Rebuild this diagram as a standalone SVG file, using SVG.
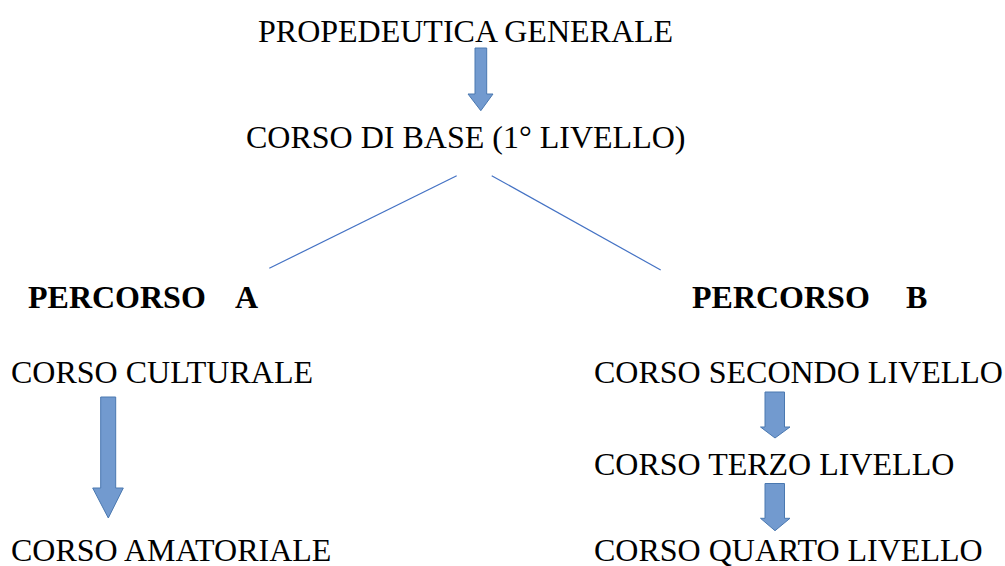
<svg xmlns="http://www.w3.org/2000/svg" width="1005" height="566" viewBox="0 0 1005 566">
<style>
.t{font-family:"Liberation Serif","Times New Roman",serif;font-size:32px;fill:#000}
.b{font-weight:bold}
.arr{fill:#729acf;stroke:#4a78b0;stroke-width:1}
.ln{stroke:#4472c4;stroke-width:1.2;fill:none}
</style>
<rect width="1005" height="566" fill="#fff"/>
<g id="connectors">
<line class="ln" x1="269.3" y1="268.3" x2="456.7" y2="175.7"/>
<line class="ln" x1="491.7" y1="175.7" x2="660.7" y2="270"/>
<path class="arr" d="M475,48 H486.7 V94 H493 L480.8,110.7 L468,94 H475 Z"/>
<path class="arr" d="M100.7,397 H115.7 V488 H123.3 L108.3,518 L92.7,488 H100.7 Z"/>
<path class="arr" d="M765,392 H784.5 V427 H790 L775,438 L760.5,427 H765 Z"/>
<path class="arr" d="M765,483.5 H784.5 V518.3 H790 L775,530.7 L760.5,518.3 H765 Z"/>
</g>
<g id="n-propedeutica"><text class="t" x="258" y="41.5">PROPEDEUTICA GENERALE</text></g>
<g id="n-base"><text class="t" x="246" y="148.3">CORSO DI BASE (1° LIVELLO)</text></g>
<g id="n-percorso-a"><text class="t b" x="28" y="308.3">PERCORSO<tspan x="235">A</tspan></text></g>
<g id="n-percorso-b"><text class="t b" x="692" y="308.3">PERCORSO<tspan x="906">B</tspan></text></g>
<g id="n-culturale"><text class="t" x="11" y="383.3">CORSO CULTURALE</text></g>
<g id="n-amatoriale"><text class="t" x="11" y="560.5">CORSO AMATORIALE</text></g>
<g id="n-secondo"><text class="t" x="594" y="383.3">CORSO SECONDO LIVELLO</text></g>
<g id="n-terzo"><text class="t" x="594" y="475">CORSO TERZO LIVELLO</text></g>
<g id="n-quarto"><text class="t" x="594" y="560.5">CORSO QUARTO LIVELLO</text></g>
</svg>
